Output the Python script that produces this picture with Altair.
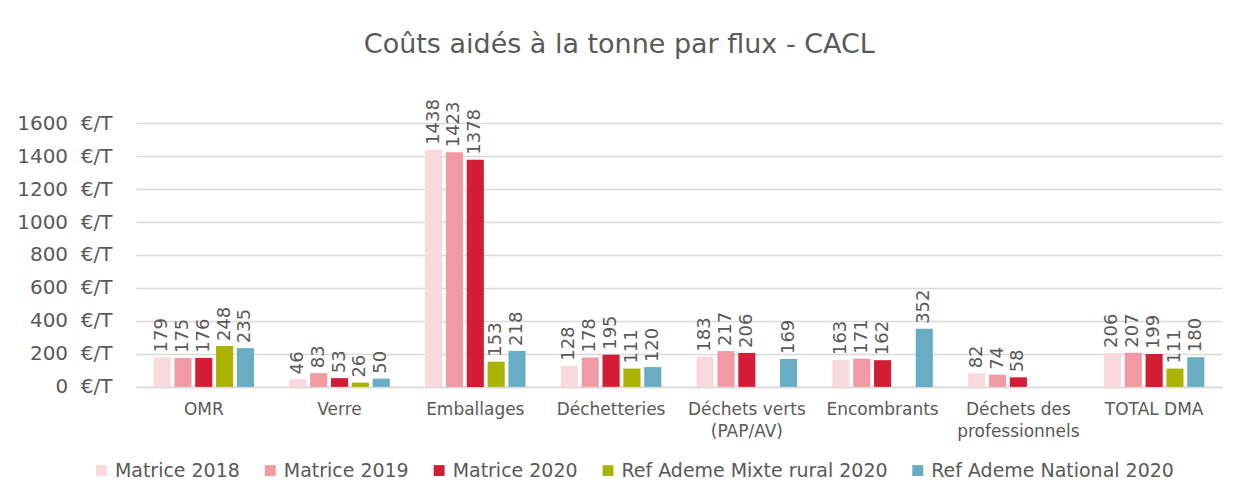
import altair as alt
import pandas as pd

categories = ["OMR", "Verre", "Emballages", "Déchetteries", "Déchets verts (PAP/AV)",
              "Encombrants", "Déchets des professionnels", "TOTAL DMA"]
series = ["Matrice 2018", "Matrice 2019", "Matrice 2020",
          "Ref Ademe Mixte rural 2020", "Ref Ademe National 2020"]
matrice_2018 = [179, 46, 1438, 128, 183, 163, 82, 206]
matrice_2019 = [175, 83, 1423, 178, 217, 171, 74, 207]
matrice_2020 = [176, 53, 1378, 195, 206, 162, 58, 199]
ademe_rural = [248, 26, 153, 111, None, None, None, 111]
ademe_national = [235, 50, 218, 120, 169, 352, None, 180]
colors = ["#f9d9dd", "#f19aa4", "#d21d35", "#a9b300", "#69adc5"]

rows = []
for s, vals in zip(series, [matrice_2018, matrice_2019, matrice_2020, ademe_rural, ademe_national]):
    for c, v in zip(categories, vals):
        if v is not None:
            rows.append({"flux": c, "serie": s, "valeur": v})
df = pd.DataFrame(rows)

FONT = "DejaVu Sans"
GRAY = "#595959"

label_expr = ("datum.label == 'Déchets verts (PAP/AV)' ? ['Déchets verts', '(PAP/AV)'] : "
              "datum.label == 'Déchets des professionnels' ? ['Déchets des', 'professionnels'] : datum.label")

x = alt.X("flux:N", sort=categories, scale=alt.Scale(domain=categories, paddingInner=0.26, paddingOuter=0.13),
          axis=alt.Axis(title=None, labelAngle=0, labelFontSize=17, labelColor=GRAY, labelFont=FONT,
                        ticks=False, domain=True, domainColor="#d9d9d9", domainWidth=1.5,
                        labelPadding=15, labelExpr=label_expr, labelLineHeight=22))
xo = alt.XOffset("serie:N", sort=series, scale=alt.Scale(domain=series, paddingInner=0.18))
y = alt.Y("valeur:Q", scale=alt.Scale(domain=[0, 1600], nice=False),
          axis=alt.Axis(title=None, values=list(range(0, 1601, 200)),
                        labelExpr="datum.value + '\u00a0\u00a0€/T'",
                        labelFontSize=20, labelColor=GRAY, labelFont=FONT, ticks=False, domain=False,
                        gridColor="#d9d9d9", gridWidth=1.5, labelPadding=24))
color = alt.Color("serie:N", sort=series, scale=alt.Scale(domain=series, range=colors),
                  legend=alt.Legend(title=None, orient="none", legendX=-44, legendY=338,
                                    direction="horizontal", symbolType="square",
                                    symbolSize=120, symbolStrokeWidth=0, labelFontSize=19, labelColor=GRAY,
                                    labelFont=FONT, columnPadding=20, symbolOffset=0,
                                    labelOffset=4, labelLimit=0))

base = alt.Chart(df)
bars = base.mark_bar().encode(x=x, xOffset=xo, y=y, color=color)
labels = base.mark_text(angle=270, align="left", baseline="middle", dx=5, fontSize=18,
                        color=GRAY, font=FONT).encode(x=x, xOffset=xo, y=y, text="valeur:Q")

chart = (bars + labels).properties(
    width=1087, height=264,
    background="white",
    title=alt.TitleParams("Coûts aidés à la tonne par flux - CACL", fontSize=27, color=GRAY, font=FONT,
                          fontWeight="normal", anchor="middle", frame="bounds", offset=40),
    padding={"left": 8, "right": 16, "top": 22, "bottom": 5},
).configure_view(stroke=None)

chart.save("out.html", embed_options={"renderer": "svg", "actions": False})
